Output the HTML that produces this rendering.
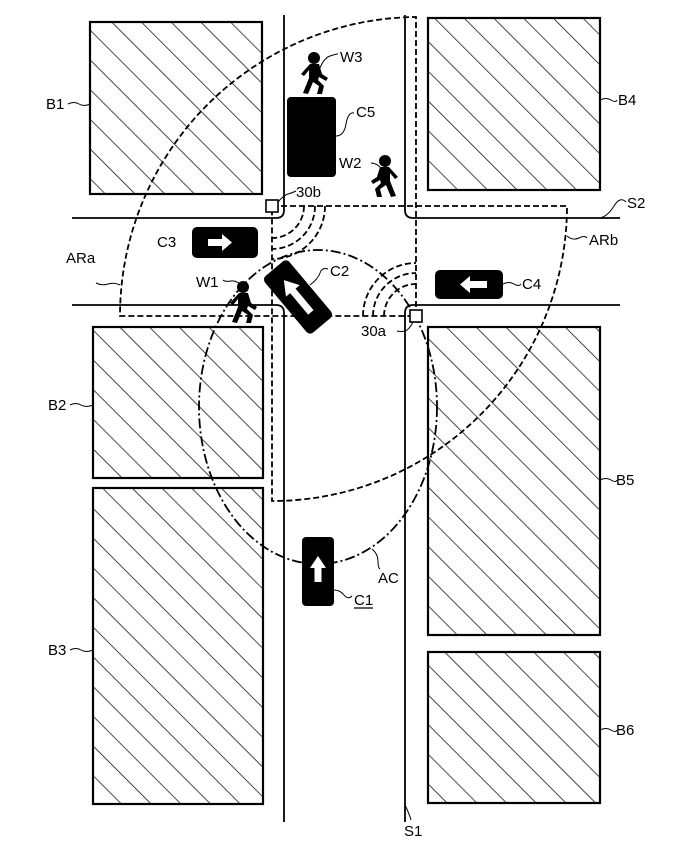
<!DOCTYPE html>
<html><head><meta charset="utf-8"><style>
html,body{margin:0;padding:0;background:#fff;}
svg{display:block;}
text{font-family:"Liberation Sans",sans-serif;font-size:15px;fill:#000;}
</style></head><body>
<svg width="698" height="856" viewBox="0 0 698 856" xmlns="http://www.w3.org/2000/svg">
<defs>
<pattern id="h" patternUnits="userSpaceOnUse" width="21" height="21" patternTransform="rotate(-45)">
<line x1="0" y1="0" x2="0" y2="21" stroke="#000" stroke-width="1.4"/>
</pattern>
<g id="ped">
<circle cx="0" cy="-14" r="6"/>
<path d="M-4,-8 L5,-8 L8,2 L14,6 L12,9 L5,5 L4,8 L10,14 L8,22 L3,22 L5,14 L-1,10 L-6,22 L-11,21 L-5,6 L-5,-2 L-10,4 L-13,2 Z"/>
</g>
</defs>
<!-- buildings -->
<g stroke="#000" stroke-width="2.2" fill="url(#h)">
<rect x="90" y="22" width="172" height="172"/>
<rect x="428" y="18" width="172" height="172"/>
<rect x="93" y="327" width="170" height="151"/>
<rect x="93" y="488" width="170" height="316"/>
<rect x="428" y="327" width="172" height="308"/>
<rect x="428" y="652" width="172" height="151"/>
</g>
<!-- roads -->
<g stroke="#000" stroke-width="1.8" fill="none">
<path d="M284,15 L284,210 Q284,218 276,218 L72,218"/>
<path d="M405,15 L405,210 Q405,218 413,218 L620,218"/>
<path d="M72,305 L276,305 Q284,305 284,313 L284,822"/>
<path d="M620,305 L413,305 Q405,305 405,313 L405,822"/>
</g>
<!-- ARa / ARb -->
<g stroke="#000" stroke-width="1.8" fill="none" stroke-dasharray="6,3">
<path d="M416,316 L416,17 A299,299 0 0 0 120,316 Z"/>
<path d="M272,206 L567,206 A295,295 0 0 1 272,501 Z"/>
<path d="M304,206 A32,32 0 0 1 272,238 M315,206 A43,43 0 0 1 272,249 M325,206 A53,53 0 0 1 272,259"/>
<path d="M384,316 A32,32 0 0 1 416,284 M373,316 A43,43 0 0 1 416,273 M363,316 A53,53 0 0 1 416,263"/>
<ellipse cx="318" cy="407" rx="119" ry="157" stroke-dasharray="10,3,2,3"/>
</g>
<!-- sensors -->
<rect x="266" y="200" width="12" height="12" fill="#fff" stroke="#000" stroke-width="1.6"/>
<rect x="410" y="310" width="12" height="12" fill="#fff" stroke="#000" stroke-width="1.6"/>
<!-- cars -->
<rect x="192" y="227" width="66" height="31" rx="5" fill="#000"/>
<path d="M208,239 L222,239 L222,234 L232,242.5 L222,251 L222,246 L208,246 Z" fill="#fff"/>
<rect x="435" y="270" width="68" height="29" rx="5" fill="#000"/>
<path d="M487,281 L470,281 L470,276 L460,284.5 L470,293 L470,288 L487,288 Z" fill="#fff"/>
<rect x="287" y="97" width="49" height="80" rx="4" fill="#000"/>
<rect x="302" y="537" width="32" height="69" rx="4" fill="#000"/>
<path d="M314.5,582 L314.5,568 L310,568 L318,556 L326,568 L321.5,568 L321.5,582 Z" fill="#fff"/>
<g transform="translate(298,297) rotate(-40)">
<rect x="-16" y="-37" width="32" height="74" rx="5" fill="#000"/>
<path d="M-3.5,20 L-3.5,-8 L-9,-8 L0,-22 L9,-8 L3.5,-8 L3.5,20 Z" fill="#fff"/>
</g>
<!-- pedestrians -->
<g fill="#000">
<use href="#ped" transform="translate(314,72)"/>
<use href="#ped" transform="translate(385,175) scale(-1,1)"/>
<use href="#ped" transform="translate(243,301)"/>
</g>
<!-- leaders -->
<g stroke="#000" stroke-width="1" fill="none">
<path d="M68,104 q6,-3 11,0 t11,0"/>
<path d="M600,100 q6,-3 11,0 t6,0"/>
<path d="M70,405 q6,-3 11,0 t12,0"/>
<path d="M70,650 q6,-3 11,0 t12,0"/>
<path d="M600,480 q6,-3 11,0 t6,0"/>
<path d="M600,730 q6,-3 11,0 t6,0"/>
<path d="M600,218 q8,-2 14,-12 t12,-4"/>
<path d="M405,805 q4,8 6,15"/>
<path d="M567,236 q6,5 12,2 t8,0"/>
<path d="M120,285 q-6,-3 -12,-1 t-12,-1"/>
<path d="M258,242 q-6,-3 -12,0 t-8,0"/>
<path d="M503,284 q6,-3 11,0 t7,0"/>
<path d="M310,285 q8,-6 10,-12 t8,-4"/>
<path d="M243,287 q-6,-7 -12,-6 t-8,-1"/>
<path d="M383,170 q-6,-7 -12,-7"/>
<path d="M320,68 q4,-10 10,-12 t8,-2"/>
<path d="M336,136 q8,0 10,-12 t8,-11"/>
<path d="M278,202 q6,-7 10,-8 t8,-3"/>
<path d="M413,322 q-4,8 -8,9 t-8,0"/>
<path d="M372,549 q6,5 6,12 t2,8"/>
<path d="M334,590 q6,0 10,5 t8,1"/>
</g>
<!-- labels -->
<text x="46" y="109">B1</text>
<text x="618" y="105">B4</text>
<text x="48" y="410">B2</text>
<text x="48" y="655">B3</text>
<text x="616" y="485">B5</text>
<text x="616" y="735">B6</text>
<text x="627" y="208">S2</text>
<text x="404" y="836">S1</text>
<text x="589" y="245">ARb</text>
<text x="66" y="263">ARa</text>
<text x="157" y="247">C3</text>
<text x="522" y="289">C4</text>
<text x="330" y="276">C2</text>
<text x="196" y="287">W1</text>
<text x="339" y="168">W2</text>
<text x="340" y="62">W3</text>
<text x="356" y="117">C5</text>
<text x="296" y="197">30b</text>
<text x="361" y="336">30a</text>
<text x="378" y="583">AC</text>
<text x="354" y="605">C1</text>
<line x1="354" y1="608" x2="373" y2="608" stroke="#000" stroke-width="1.2"/>
</svg>
</body></html>
